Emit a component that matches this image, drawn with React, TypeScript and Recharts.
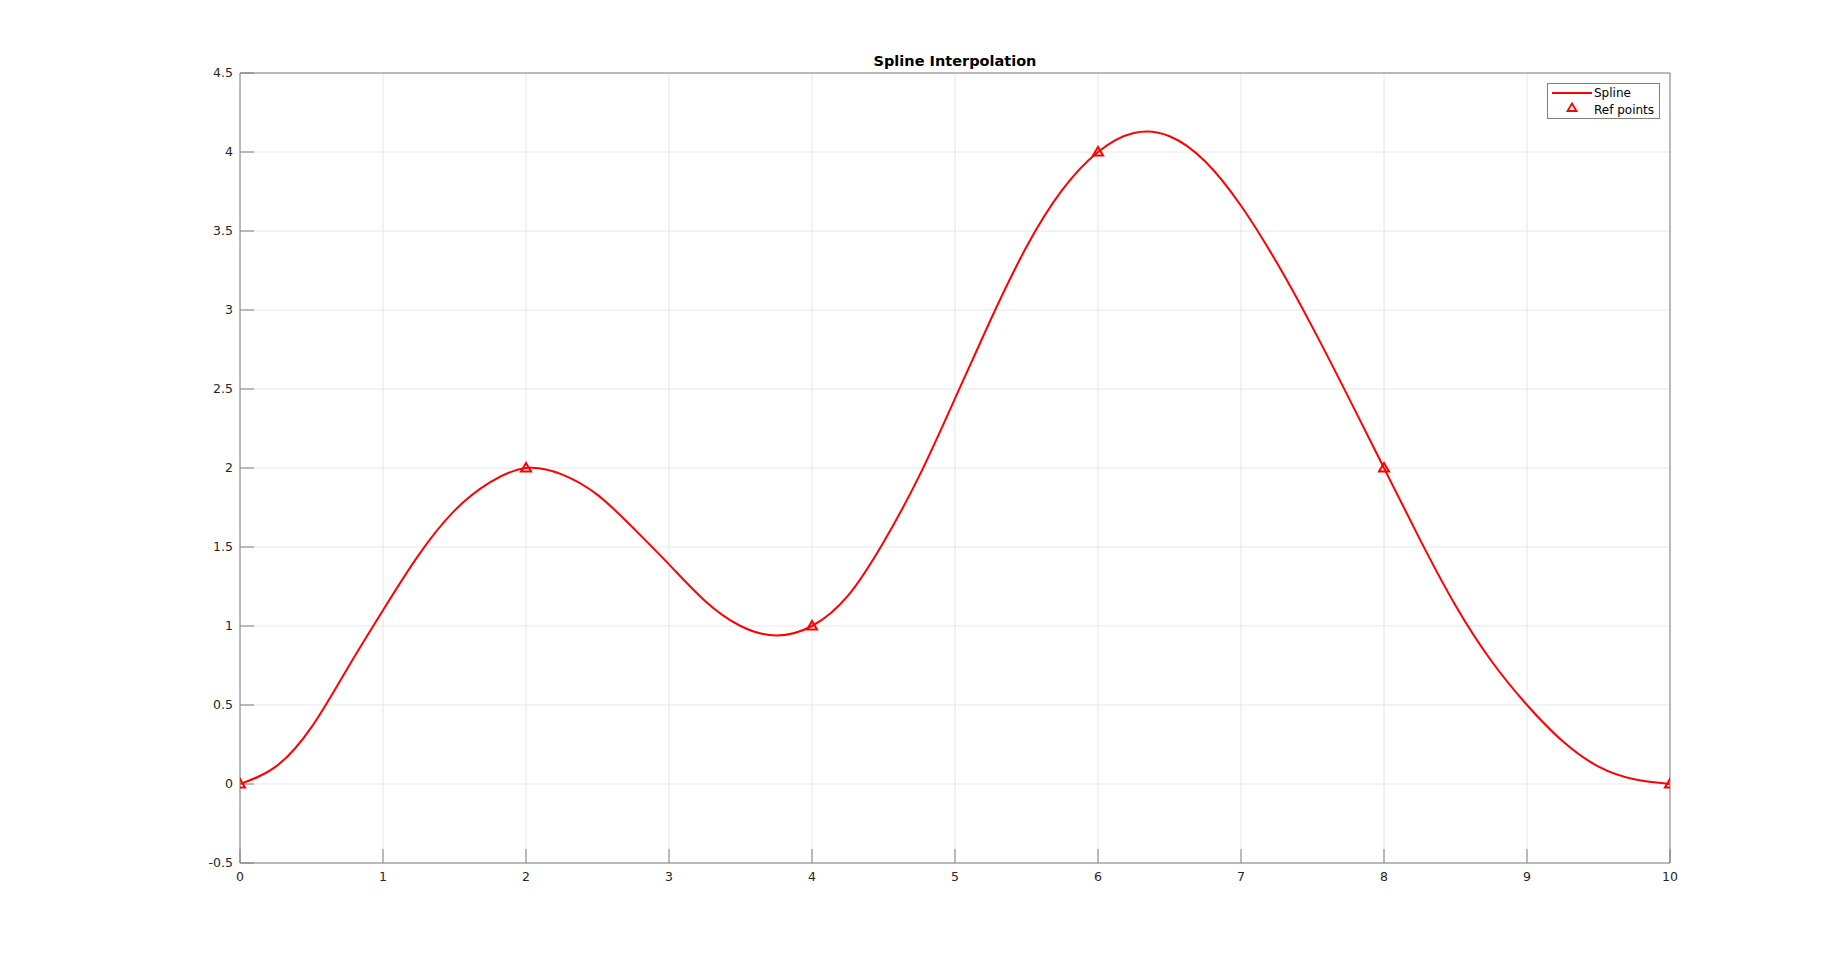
import React from 'react';
import { ComposedChart, Line, Scatter, XAxis, YAxis, CartesianGrid, Legend } from 'recharts';

const splineX = [
  0, 0.25, 0.5, 0.75, 1, 1.25, 1.5, 1.75, 2, 2.25, 2.5, 2.75, 3, 3.25, 3.5, 3.75, 4, 4.25, 4.5, 4.75, 5,
  5.25, 5.5, 5.75, 6, 6.25, 6.5, 6.75, 7, 7.25, 7.5, 7.75, 8, 8.25, 8.5, 8.75, 9, 9.25, 9.5, 9.75, 10,
];
const splineY = [
  0, 0.11, 0.36, 0.73, 1.1, 1.45, 1.73, 1.91, 2.0, 1.96, 1.83, 1.62, 1.39, 1.16, 1.0, 0.94, 1.0, 1.19, 1.53, 1.95, 2.44,
  2.94, 3.4, 3.76, 4.0, 4.12, 4.1, 3.94, 3.66, 3.3, 2.89, 2.45, 2.0, 1.55, 1.13, 0.78, 0.5, 0.27, 0.11, 0.03, 0,
];

// reference points
const refX = [0, 2, 4, 6, 8, 10];
const refY = [0, 2, 1, 4, 2, 0];

const xTicks = [0, 1, 2, 3, 4, 5, 6, 7, 8, 9, 10];
const yTicks = [-0.5, 0, 0.5, 1, 1.5, 2, 2.5, 3, 3.5, 4, 4.5];

const splineData = splineX.map((x, i) => ({ x, y: splineY[i] }));
const refData = refX.map((x, i) => ({ x, y: refY[i] }));

const FONT = '"DejaVu Sans", sans-serif';
const AXIS = '#808080';
const RED = '#ff0000';

const tickStyle = { fill: '#262626', fontSize: 12.5, fontFamily: FONT };

function Triangle(props: any) {
  const { cx, cy } = props;
  if (cx == null || cy == null) return <g />;
  return (
    <path
      d={`M${cx},${cy - 5} L${cx - 5},${cy + 3.5} L${cx + 5},${cy + 3.5} Z`}
      fill="none"
      stroke={RED}
      strokeWidth={2}
    />
  );
}

function LegendBox() {
  return (
    <svg width={114} height={37} style={{ display: 'block' }}>
      <rect x={0.5} y={0.5} width={112} height={35} fill="#fff" stroke={AXIS} strokeWidth={1} />
      <line x1={5} y1={10} x2={45} y2={10} stroke={RED} strokeWidth={2} />
      <path d="M25,20.5 L20.5,28 L29.5,28 Z" fill="none" stroke={RED} strokeWidth={1.8} />
      <text x={47} y={14} fontSize={12} fontFamily={FONT} fill="#000">Spline</text>
      <text x={47} y={31} fontSize={12} fontFamily={FONT} fill="#000">Ref points</text>
    </svg>
  );
}

export default function App() {
  return (
    <div style={{ position: 'absolute', left: 0, top: 0, width: 1845, height: 970, background: '#fff' }}>
      <div
        style={{
          position: 'absolute',
          left: 240,
          width: 1430,
          top: 53.5,
          textAlign: 'center',
          fontFamily: FONT,
          fontWeight: 'bold',
          fontSize: 14.5,
          lineHeight: '15px',
          color: '#000',
        }}
      >
        Spline Interpolation
      </div>
      <ComposedChart width={1845} height={970} margin={{ top: 72, right: 174, bottom: 77, left: 180 }}>
        <CartesianGrid xAxisId="b" yAxisId="l" stroke="#e6e6e6" />
        <XAxis
          xAxisId="b"
          type="number"
          dataKey="x"
          domain={[0, 10]}
          ticks={xTicks}
          interval={0}
          allowDataOverflow
          height={30}
          stroke={AXIS}
          tickSize={-14}
          tickMargin={23}
          tick={tickStyle}
        />
        <XAxis
          xAxisId="t"
          orientation="top"
          type="number"
          dataKey="x"
          domain={[0, 10]}
          ticks={xTicks}
          interval={0}
          allowDataOverflow
          height={1}
          stroke={AXIS}
          tickSize={-14}
          tick={false}
        />
        <YAxis
          yAxisId="l"
          type="number"
          domain={[-0.5, 4.5]}
          ticks={yTicks}
          interval={0}
          allowDataOverflow
          width={60}
          stroke={AXIS}
          tickSize={-14}
          tickMargin={21}
          tick={tickStyle}
        />
        <YAxis
          yAxisId="r"
          orientation="right"
          type="number"
          domain={[-0.5, 4.5]}
          ticks={yTicks}
          interval={0}
          allowDataOverflow
          width={1}
          stroke={AXIS}
          tickSize={-14}
          tick={false}
        />
        <Line
          xAxisId="b"
          yAxisId="l"
          data={splineData}
          dataKey="y"
          type="natural"
          stroke={RED}
          strokeWidth={2}
          dot={false}
          isAnimationActive={false}
          name="Spline"
        />
        <Scatter
          xAxisId="b"
          yAxisId="l"
          data={refData}
          dataKey="y"
          shape={Triangle}
          isAnimationActive={false}
          name="Ref points"
        />
        <Legend
          layout="vertical"
          align="center"
          verticalAlign="middle"
          content={() => <LegendBox />}
          wrapperStyle={{ position: 'absolute', left: 1547, top: 83, width: 114, height: 37 }}
        />
      </ComposedChart>
    </div>
  );
}
